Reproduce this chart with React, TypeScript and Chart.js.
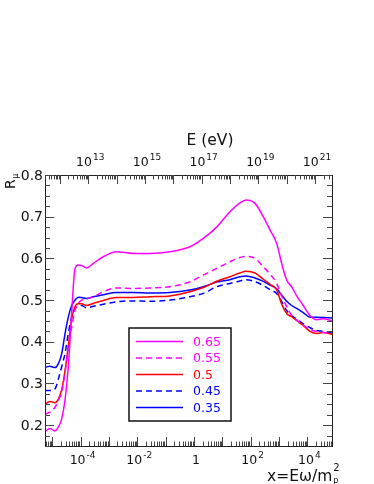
import React, { useEffect, useRef } from 'react';
import { Chart, registerables } from 'chart.js';

Chart.register(...registerables);

// x = E*omega/m_p^2 sample positions (log spaced)
const xValues = [
  5.55e-6, 8.34e-6, 1.25e-5, 1.63e-5, 2.15e-5, 2.82e-5, 3.68e-5, 4.85e-5, 6.34e-5, 8.3e-5,
  1.09e-4, 1.64e-4, 2.81e-4, 6.32e-4, 1.87e-3, 7.23e-3, 0.0281, 0.142, 0.723, 2.13,
  6.32, 18.6, 42.0, 68.2, 142, 278, 480, 826, 1240, 1860,
  2790, 4200, 7160, 12360, 21300, 36400, 74000,
];

const r065 = [
  0.185, 0.192, 0.186, 0.195, 0.215, 0.26, 0.339, 0.47, 0.575, 0.584,
  0.583, 0.577, 0.588, 0.604, 0.616, 0.612, 0.612, 0.616, 0.628, 0.648,
  0.675, 0.712, 0.733, 0.74, 0.732, 0.7, 0.668, 0.636, 0.588, 0.548,
  0.532, 0.51, 0.487, 0.463, 0.453, 0.455, 0.45,
];
const r055 = [
  0.227, 0.231, 0.243, 0.259, 0.28, 0.325, 0.385, 0.435, 0.475, 0.492,
  0.5, 0.503, 0.508, 0.52, 0.529, 0.528, 0.529, 0.532, 0.544, 0.56,
  0.576, 0.592, 0.602, 0.605, 0.6, 0.58, 0.562, 0.54, 0.51, 0.485,
  0.463, 0.452, 0.44, 0.429, 0.425, 0.422, 0.42,
];
const r050 = [
  0.251, 0.257, 0.254, 0.262, 0.285, 0.33, 0.39, 0.455, 0.484, 0.491,
  0.491, 0.487, 0.492, 0.499, 0.506, 0.506, 0.508, 0.51, 0.52, 0.53,
  0.545, 0.556, 0.565, 0.569, 0.565, 0.55, 0.538, 0.525, 0.49, 0.468,
  0.46, 0.451, 0.439, 0.425, 0.42, 0.422, 0.418,
];
const r045 = [
  0.283, 0.283, 0.287, 0.31, 0.34, 0.372, 0.42, 0.46, 0.48, 0.485,
  0.487, 0.481, 0.485, 0.49, 0.496, 0.498, 0.497, 0.5, 0.508, 0.516,
  0.532, 0.54, 0.546, 0.549, 0.544, 0.535, 0.525, 0.516, 0.497, 0.475,
  0.462, 0.455, 0.443, 0.434, 0.427, 0.425, 0.421,
];
const r035 = [
  0.339, 0.341, 0.338, 0.347, 0.371, 0.419, 0.459, 0.487, 0.5, 0.507,
  0.506, 0.504, 0.508, 0.513, 0.518, 0.518, 0.517, 0.518, 0.524, 0.532,
  0.543, 0.549, 0.556, 0.558, 0.553, 0.545, 0.536, 0.527, 0.512, 0.497,
  0.487, 0.48, 0.47, 0.459, 0.459, 0.458, 0.457,
];

const seriesValues = [r065, r055, r050, r045, r035];
const seriesLabels = ['0.65', '0.55', '0.5', '0.45', '0.35'];
const seriesColors = ['#ff00ff', '#ff00ff', '#ff0000', '#0000ff', '#0000ff'];
const seriesDashed = [false, true, false, true, false];

// axis ranges and tick labels
const X_MIN = 5.55e-6;
const X_MAX = 7.4e4;
const E_PER_X = 5.37e16; // E (eV) corresponding to x = 1
const Y_MIN = 0.15;
const Y_MAX = 0.8;

const yTickValues = [0.2, 0.3, 0.4, 0.5, 0.6, 0.7, 0.8];
const yTickLabels = ['0.2', '0.3', '0.4', '0.5', '0.6', '0.7', '0.8'];

const xTickValues = [1e-4, 1e-2, 1, 1e2, 1e4];
const xTickBase = ['10', '10', '1', '10', '10'];
const xTickExp = ['-4', '-2', '', '2', '4'];

const eTickValues = [1e13, 1e15, 1e17, 1e19, 1e21];
const eTickBase = ['10', '10', '10', '10', '10'];
const eTickExp = ['13', '15', '17', '19', '21'];

const FONT = "'DejaVu Sans', 'Liberation Sans', Arial, sans-serif";

function drawPow(ctx: CanvasRenderingContext2D, base: string, exp: string, cx: number, baseline: number, fs: number, efs: number) {
  ctx.font = `${fs}px ${FONT}`;
  const wb = ctx.measureText(base).width;
  ctx.font = `${efs}px ${FONT}`;
  const we = exp ? ctx.measureText(exp).width : 0;
  const total = wb + (exp ? we + 1 : 0);
  const x0 = cx - total / 2;
  ctx.textAlign = 'left';
  ctx.textBaseline = 'alphabetic';
  ctx.font = `${fs}px ${FONT}`;
  ctx.fillText(base, x0, baseline);
  if (exp) {
    ctx.font = `${efs}px ${FONT}`;
    ctx.fillText(exp, x0 + wb + 1, baseline - fs * 0.5);
  }
}

const rootFramePlugin = {
  id: 'rootFrame',
  afterDatasetsDraw(chart: any) {
    const { ctx, chartArea: a, scales } = chart;
    const xs = scales.x;
    const xt = scales.x2;
    const ys = scales.y;
    ctx.save();
    ctx.strokeStyle = '#222';
    ctx.fillStyle = '#111';
    ctx.lineWidth = 1;
    // frame
    ctx.strokeRect(Math.round(a.left) + 0.5, Math.round(a.top) + 0.5, Math.round(a.right - a.left), Math.round(a.bottom - a.top));

    ctx.strokeStyle = '#444';
    // y ticks (left and right)
    for (let k = 0; k <= 26; k++) {
      const v = Y_MIN + k * 0.025;
      if (v > Y_MAX + 1e-9) break;
      const major = Math.abs(v * 10 - Math.round(v * 10)) < 1e-6;
      const len = major ? 9 : 5;
      const py = Math.round(ys.getPixelForValue(v)) + 0.5;
      ctx.beginPath();
      ctx.moveTo(a.left, py);
      ctx.lineTo(a.left + len, py);
      ctx.moveTo(a.right, py);
      ctx.lineTo(a.right - len, py);
      ctx.stroke();
    }
    // bottom x ticks
    for (let d = -7; d <= 6; d++) {
      for (let m = 1; m <= 9; m++) {
        const v = m * Math.pow(10, d);
        if (v < X_MIN || v > X_MAX) continue;
        const px = Math.round(xs.getPixelForValue(v)) + 0.5;
        const len = m === 1 ? 9 : 4.5;
        ctx.beginPath();
        ctx.moveTo(px, a.bottom);
        ctx.lineTo(px, a.bottom - len);
        ctx.stroke();
      }
    }
    // top E ticks
    for (let d = 9; d <= 23; d++) {
      for (let m = 1; m <= 9; m++) {
        const v = m * Math.pow(10, d);
        if (v < xt.min || v > xt.max) continue;
        const px = Math.round(xt.getPixelForValue(v)) + 0.5;
        const len = m === 1 ? 9 : 4.5;
        ctx.beginPath();
        ctx.moveTo(px, a.top);
        ctx.lineTo(px, a.top + len);
        ctx.stroke();
      }
    }

    // y labels
    ctx.fillStyle = '#111';
    ctx.font = `14px ${FONT}`;
    ctx.textAlign = 'right';
    ctx.textBaseline = 'middle';
    yTickValues.forEach((v, i) => {
      ctx.fillText(yTickLabels[i], a.left - 2, ys.getPixelForValue(v) + 1);
    });
    // bottom labels
    xTickValues.forEach((v, i) => {
      drawPow(ctx, xTickBase[i], xTickExp[i], xs.getPixelForValue(v) + 2, a.bottom + 18, 12.5, 9);
    });
    // top labels
    eTickValues.forEach((v, i) => {
      drawPow(ctx, eTickBase[i], eTickExp[i], xt.getPixelForValue(v) + 2, a.top - 9, 12.5, 9);
    });

    // axis titles
    ctx.textAlign = 'center';
    ctx.textBaseline = 'alphabetic';
    ctx.font = `15.5px ${FONT}`;
    ctx.fillText('E (eV)', 210, a.top - 30);

    // x title: x=Eω/m_p^2, right aligned
    ctx.font = `15.5px ${FONT}`;
    const t1 = 'x=E\u03C9/m';
    const w1 = ctx.measureText(t1).width;
    ctx.font = `9px ${FONT}`;
    const wSub = ctx.measureText('p').width;
    const wSup = ctx.measureText('2').width;
    const right = a.right + 7;
    const x0 = right - (w1 + Math.max(wSub, wSup) + 1);
    const base = a.bottom + 35;
    ctx.textAlign = 'left';
    ctx.font = `15.5px ${FONT}`;
    ctx.fillText(t1, x0, base);
    ctx.font = `8px ${FONT}`;
    ctx.fillText('p', x0 + w1 + 1, base + 2);
    ctx.font = `10px ${FONT}`;
    ctx.fillText('2', x0 + w1 + 1, base - 10);

    // y title R_mu rotated
    ctx.save();
    ctx.translate(15, a.top + 14);
    ctx.rotate(-Math.PI / 2);
    ctx.font = `14px ${FONT}`;
    ctx.textAlign = 'left';
    ctx.fillText('R', 0, 0);
    const wr = ctx.measureText('R').width;
    ctx.font = `8px ${FONT}`;
    ctx.fillText('\u03BC', wr + 0.5, 3);
    ctx.restore();

    // legend box
    const lx0 = 129, ly0 = 328, lx1 = 231, ly1 = 421;
    ctx.fillStyle = '#ffffff';
    ctx.fillRect(lx0, ly0, lx1 - lx0, ly1 - ly0);
    ctx.strokeStyle = '#111';
    ctx.lineWidth = 1.5;
    ctx.strokeRect(lx0, ly0, lx1 - lx0, ly1 - ly0);
    chart.data.datasets.forEach((ds: any, i: number) => {
      const yy = 341.5 + i * 16.5;
      ctx.strokeStyle = ds.borderColor;
      ctx.lineWidth = 1.5;
      ctx.setLineDash(ds.borderDash || []);
      ctx.beginPath();
      ctx.moveTo(136, yy);
      ctx.lineTo(183, yy);
      ctx.stroke();
      ctx.setLineDash([]);
      ctx.fillStyle = ds.borderColor;
      ctx.font = `12.5px ${FONT}`;
      ctx.textAlign = 'left';
      ctx.textBaseline = 'middle';
      ctx.fillText(ds.label, 193, yy + 1);
    });
    ctx.restore();
  },
};

export default function App() {
  const ref = useRef<HTMLCanvasElement | null>(null);
  useEffect(() => {
    if (!ref.current) return;
    const datasets = seriesValues.map((vals, i) => ({
      label: seriesLabels[i],
      data: vals.map((y, j) => ({ x: xValues[j], y })),
      borderColor: seriesColors[i],
      backgroundColor: seriesColors[i],
      borderWidth: 1.5,
      borderDash: seriesDashed[i] ? [6, 4] : [],
      pointRadius: 0,
      cubicInterpolationMode: 'monotone',
      fill: false,
      xAxisID: 'x',
      yAxisID: 'y',
    }));
    const chart = new Chart(ref.current, {
      type: 'line',
      data: { datasets },
      options: {
        animation: false,
        responsive: false,
        maintainAspectRatio: false,
        layout: { padding: { left: 45, right: 42, top: 175, bottom: 38 } },
        plugins: { legend: { display: false }, tooltip: { enabled: false } },
        scales: {
          x: { type: 'logarithmic', min: X_MIN, max: X_MAX, display: false },
          x2: { type: 'logarithmic', position: 'top', axis: 'x', min: X_MIN * E_PER_X, max: X_MAX * E_PER_X, display: false },
          y: { type: 'linear', min: Y_MIN, max: Y_MAX, display: false },
        },
      },
      plugins: [rootFramePlugin],
    });
    return () => chart.destroy();
  }, []);
  return (
    <div style={{ position: 'absolute', left: 0, top: 0, width: 374, height: 484, background: '#fff' }}>
      <canvas ref={ref} width={374} height={484} style={{ width: 374, height: 484, display: 'block' }} />
    </div>
  );
}
